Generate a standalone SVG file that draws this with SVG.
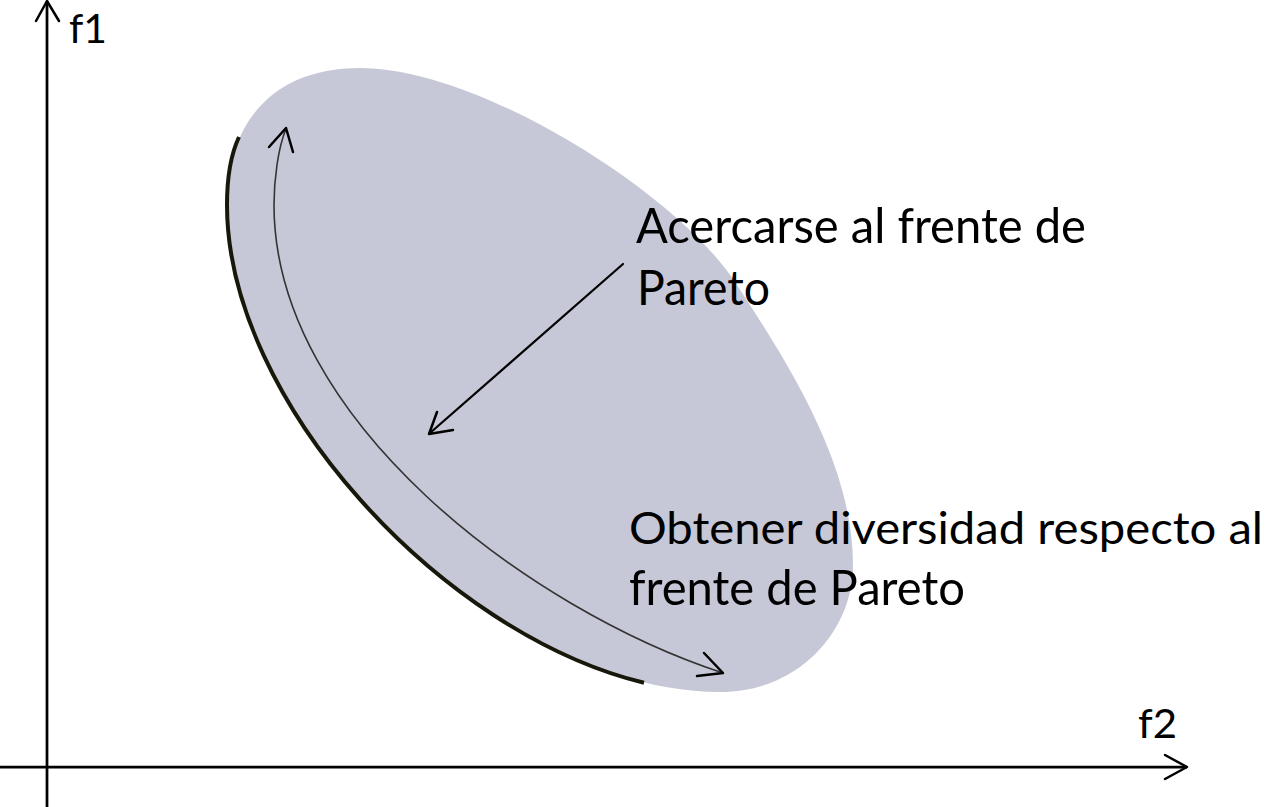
<svg xmlns="http://www.w3.org/2000/svg" width="1269" height="807" viewBox="0 0 1269 807">
  <style>
    .lbl { font-family: Lato, "Open Sans", "Liberation Sans", sans-serif; fill: #000; }
    .big { font-size: 49px; }
    .mid { font-size: 45px; }
    .ax { font-size: 40px; }
    .axis { stroke: #000; stroke-width: 2.75; fill: none; }
    .head { stroke: #000; stroke-width: 2.5; fill: none; stroke-linecap: round; stroke-linejoin: round; }
  </style>
  <rect width="1269" height="807" fill="#fff"/>

  <g id="region">
    <path d="M227,205 C227,120 275,68 360,68 C480,68 677.5,194 735,282 C790,366 853,465 853,565 C853,630 800,692 720,692 C498,692 227,425 227,205 Z" fill="#C7C8D7"/>
  </g>

  <g id="pareto-front">
    <path d="M239,137 C230.5,155 227,178 227,205 C227,400.8 441.5,633.8 644,682.8" fill="none" stroke="#17170A" stroke-width="4" stroke-linecap="butt"/>
  </g>

  <g id="axes">
    <line class="axis" x1="47" y1="1" x2="47" y2="807"/>
    <polyline class="head" points="36,21 47,1 59,21"/>
    <line class="axis" x1="0" y1="767" x2="1187" y2="767"/>
    <polyline class="head" points="1165,755 1187,767 1165,779"/>
    <text id="label-f1" class="lbl ax" x="69" y="43" textLength="38" lengthAdjust="spacingAndGlyphs">f1</text>
    <text id="label-f2" class="lbl ax" x="1138" y="738" textLength="39" lengthAdjust="spacingAndGlyphs">f2</text>
  </g>

  <g id="connectors">
    <path d="M286,129 C278,148 274,180 274,205 C274,420 530,610 723,673" fill="none" stroke="#333" stroke-width="1.6"/>
    <polyline class="head" points="269,147 286,128 293,152"/>
    <polyline class="head" points="704,653 723,673 697,676"/>
    <line x1="623" y1="264" x2="430" y2="433" stroke="#000" stroke-width="2.2" stroke-linecap="round"/>
    <polyline class="head" points="437,412 429,434 453,430"/>
  </g>

  <g id="label-acercarse">
    <text class="lbl big" x="636" y="243" textLength="450" lengthAdjust="spacingAndGlyphs">Acercarse al frente de</text>
    <text class="lbl big" x="637" y="305" textLength="133" lengthAdjust="spacingAndGlyphs">Pareto</text>
  </g>

  <g id="label-diversidad">
    <text class="lbl mid" x="629" y="544" textLength="634" lengthAdjust="spacingAndGlyphs">Obtener diversidad respecto al</text>
    <text class="lbl big" x="629" y="605" textLength="336" lengthAdjust="spacingAndGlyphs">frente de Pareto</text>
  </g>
</svg>
